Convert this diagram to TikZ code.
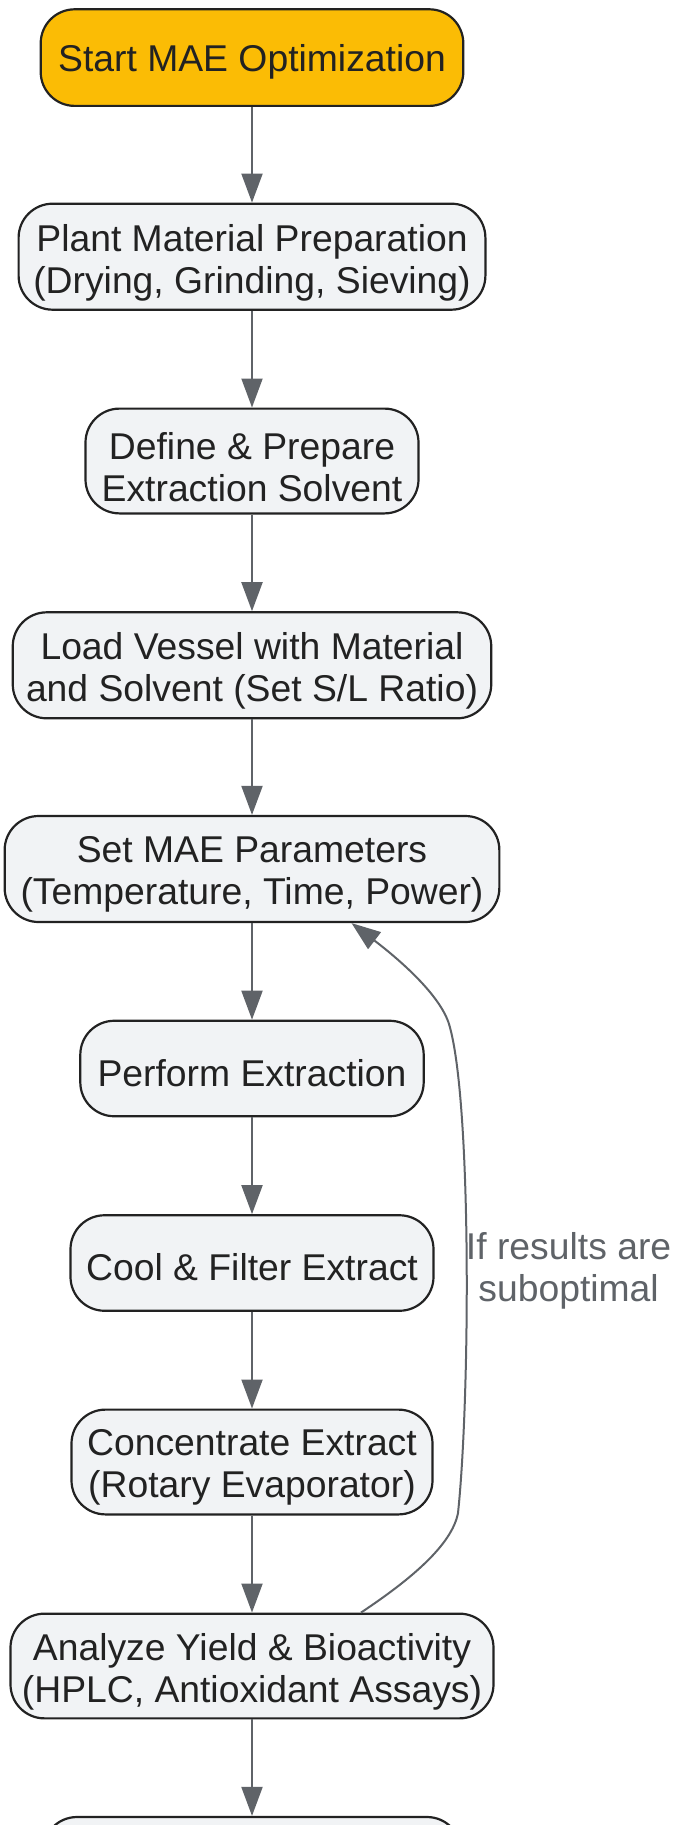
\documentclass[tikz,border=0pt]{standalone}
\usepackage{fontspec}
\setmainfont{Liberation Sans}
\usetikzlibrary{arrows.meta,calc}
\definecolor{startfill}{HTML}{FBBC05}
\definecolor{boxfill}{HTML}{F1F3F5}
\definecolor{boxline}{HTML}{222222}
\definecolor{edgecol}{HTML}{5F6368}
\definecolor{txtcol}{HTML}{222222}
\begin{document}
\begin{tikzpicture}[x=1pt,y=-1pt,
  box/.style={draw=boxline, line width=2.2pt, fill=boxfill, rounded corners=34pt, inner sep=0pt},
  startbox/.style={box, fill=startfill},
  txt/.style={inner sep=0pt, align=center, text=txtcol, font=\fontsize{37.3}{42}\selectfont},
  flow/.style={draw=edgecol, line width=2pt, -{Triangle[length=29pt,width=21pt]}},
  lbl/.style={text=edgecol, align=center, inner sep=0pt, font=\fontsize{37.3}{42}\selectfont}]
\clip (0,0) rectangle (674,1825);
\node[startbox, minimum width=422.6pt, minimum height=96.6pt] (n1) at (252,57.6) {};
\node[box, minimum width=466.8pt, minimum height=106pt] (n2) at (252,256.7) {};
\node[box, minimum width=333pt, minimum height=104.8pt] (n3) at (252,461) {};
\node[box, minimum width=478.5pt, minimum height=106pt] (n4) at (252,665.3) {};
\node[box, minimum width=494.7pt, minimum height=106pt] (n5) at (252,869) {};
\node[box, minimum width=343.4pt, minimum height=95.5pt] (n6) at (252,1068.5) {};
\node[box, minimum width=363pt, minimum height=95.5pt] (n7) at (252,1263) {};
\node[box, minimum width=361pt, minimum height=104.8pt] (n8) at (252,1462) {};
\node[box, minimum width=483pt, minimum height=104.7pt] (n9) at (252,1666) {};
\node[box, minimum width=418pt, minimum height=96pt] (n10) at (252,1865) {};
\node[txt] (t1) at ($(n1.center)+(0,4.5)$) {Start MAE Optimization};
\node[txt] (t2) at ($(n2.center)+(0,5.8)$) {Plant Material Preparation\\(Drying, Grinding, Sieving)};
\node[txt] (t3) at ($(n3.center)+(0,5.8)$) {Define \& Prepare\\Extraction Solvent};
\node[txt] (t4) at ($(n4.center)+(0,5.8)$) {Load Vessel with Material\\and Solvent (Set S/L Ratio)};
\node[txt] (t5) at ($(n5.center)+(0,5.8)$) {Set MAE Parameters\\(Temperature, Time, Power)};
\node[txt] (t6) at ($(n6.center)+(0,4.5)$) {Perform Extraction};
\node[txt] (t7) at ($(n7.center)+(0,4.5)$) {Cool \& Filter Extract};
\node[txt] (t8) at ($(n8.center)+(0,5.8)$) {Concentrate Extract\\(Rotary Evaporator)};
\node[txt] (t9) at ($(n9.center)+(0,5.8)$) {Analyze Yield \& Bioactivity\\(HPLC, Antioxidant Assays)};
\draw[flow] (n1.south) -- (n2.north);
\draw[flow] (n2.south) -- (n3.north);
\draw[flow] (n3.south) -- (n4.north);
\draw[flow] (n4.south) -- (n5.north);
\draw[flow] (n5.south) -- (n6.north);
\draw[flow] (n6.south) -- (n7.north);
\draw[flow] (n7.south) -- (n8.north);
\draw[flow] (n8.south) -- (n9.north);
\draw[flow] (n9.south) -- (n10.north);
\draw[flow] ([xshift=109pt]n9.north) .. controls (410,1580) and (452,1545) .. (458,1513)
  .. controls (470,1400) and (472,1100) .. (449,1024)
  .. controls (440,995) and (400,960) .. ([xshift=99.5pt]n5.south);
\node[lbl] (loop) at (568.6,1271) {If results are\\suboptimal};
\end{tikzpicture}
\end{document}
